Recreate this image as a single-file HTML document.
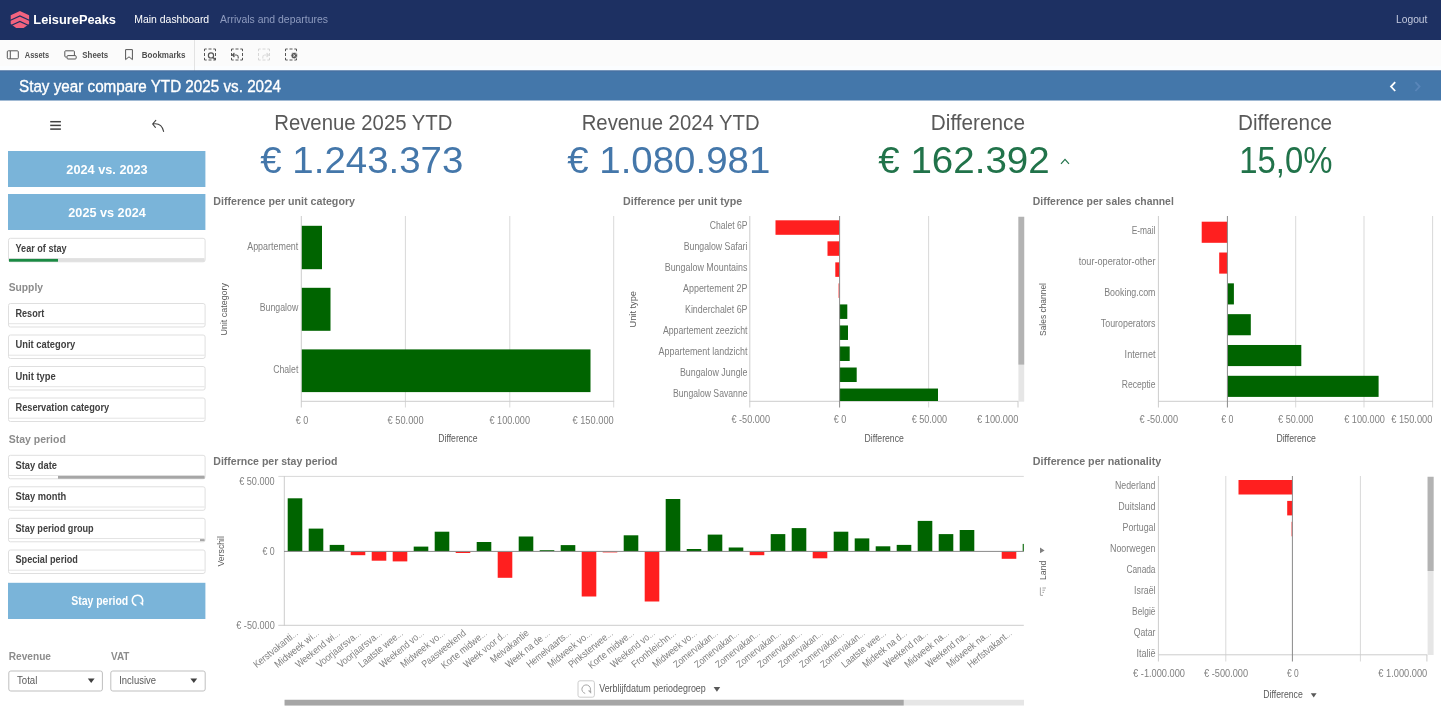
<!DOCTYPE html>
<html lang="en"><head><meta charset="utf-8"><title>Stay year compare YTD 2025 vs. 2024</title>
<style>
html,body{margin:0;padding:0;background:#ffffff;overflow:hidden}
svg{display:block;font-family:"Liberation Sans", sans-serif;}
text{white-space:pre}
</style></head><body>
<svg width="1441" height="708" viewBox="0 0 1441 708" shape-rendering="auto">
<rect x="0" y="0" width="1441" height="708" fill="#ffffff"/>
<rect x="0.00" y="0.00" width="1441.00" height="40.00" fill="#1d3062" />
<path d="M19.9 11.1 L29.1 15.3 V24 L23.6 28.1 H16.2 L10.7 24 V15.3 Z" fill="#f2637f"/><path d="M10 20.5 L19.9 15.9 L29.8 20.5 M10 26 L19.9 21.4 L29.8 26" fill="none" stroke="#1d3062" stroke-width="1.3"/>
<text x="33.3" y="24.2" font-size="13.14" fill="#ffffff" font-weight="bold" textLength="82.7" lengthAdjust="spacingAndGlyphs" >LeisurePeaks</text>
<text x="134.2" y="23.0" font-size="10.86" fill="#ffffff" font-weight="normal" textLength="75.0" lengthAdjust="spacingAndGlyphs" >Main dashboard</text>
<text x="220.0" y="23.0" font-size="10.86" fill="#8e9bbf" font-weight="normal" textLength="108.0" lengthAdjust="spacingAndGlyphs" >Arrivals and departures</text>
<text x="1396.0" y="23.4" font-size="10.86" fill="#c3c9de" font-weight="normal" textLength="31.4" lengthAdjust="spacingAndGlyphs" >Logout</text>
<rect x="0.00" y="40.00" width="1441.00" height="26.00" fill="#fbfbfb" />
<rect x="0.00" y="66.00" width="1441.00" height="4.50" fill="#fbfdff" />
<rect x="194.00" y="40.00" width="1" height="31.00" fill="#e3e3e3"/>
<rect x="7.3" y="50.8" width="11" height="8" rx="1" fill="none" stroke="#565656" stroke-width="1"/><line x1="10.3" y1="51" x2="10.3" y2="58.8" stroke="#565656" stroke-width="1"/>
<text x="24.8" y="57.8" font-size="9.00" fill="#505050" font-weight="bold" textLength="24.4" lengthAdjust="spacingAndGlyphs" >Assets</text>
<path d="M66.5 57 H65.6 Q64.8 57 64.8 56.2 V51.6 Q64.8 50.8 65.6 50.8 H73.6 Q74.4 50.8 74.4 51.6 V55.2" fill="none" stroke="#565656" stroke-width="1"/><rect x="67" y="55.6" width="9.2" height="3.4" rx="1" fill="none" stroke="#565656" stroke-width="1"/>
<text x="82.3" y="57.8" font-size="9.00" fill="#505050" font-weight="bold" textLength="25.9" lengthAdjust="spacingAndGlyphs" >Sheets</text>
<path d="M125.6 49.6 H132.4 V59.6 L129 56.8 L125.6 59.6 Z" fill="none" stroke="#565656" stroke-width="1" stroke-linejoin="round"/>
<text x="141.8" y="57.8" font-size="9.00" fill="#505050" font-weight="bold" textLength="43.7" lengthAdjust="spacingAndGlyphs" >Bookmarks</text>
<path d="M204.5 51.2 V49 H206.7 M213.3 49 H215.5 V51.2 M215.5 57.8 V60 H213.3 M206.7 60 H204.5 V57.8 M208.5 49 H211.5 M215.5 53 V56 M211.5 60 H208.5 M204.5 56 V53" fill="none" stroke="#565656" stroke-width="1" opacity="1"/>
<circle cx="211" cy="55.4" r="2.6" fill="#fbfbfb" stroke="#565656" stroke-width="1.2"/><line x1="213" y1="57.4" x2="215.6" y2="59.8" stroke="#565656" stroke-width="1.4"/>
<path d="M231.5 51.2 V49 H233.7 M240.3 49 H242.5 V51.2 M242.5 57.8 V60 H240.3 M233.7 60 H231.5 V57.8 M235.5 49 H238.5 M242.5 53 V56 M238.5 60 H235.5 M231.5 56 V53" fill="none" stroke="#565656" stroke-width="1" opacity="1"/>
<path d="M232.6 55 H236.4 Q238.2 55 238.2 57 V58.4 M234.4 53 L232.4 55 L234.4 57" fill="none" stroke="#565656" stroke-width="1.1"/>
<path d="M258.5 51.2 V49 H260.7 M267.3 49 H269.5 V51.2 M269.5 57.8 V60 H267.3 M260.7 60 H258.5 V57.8 M262.5 49 H265.5 M269.5 53 V56 M265.5 60 H262.5 M258.5 56 V53" fill="none" stroke="#c8c8c8" stroke-width="1" opacity="0.7"/>
<path d="M268.4 55 H264.6 Q262.8 55 262.8 57 V58.4 M266.6 53 L268.6 55 L266.6 57" fill="none" stroke="#dcdcdc" stroke-width="1.1"/>
<path d="M285.5 51.2 V49 H287.7 M294.3 49 H296.5 V51.2 M296.5 57.8 V60 H294.3 M287.7 60 H285.5 V57.8 M289.5 49 H292.5 M296.5 53 V56 M292.5 60 H289.5 M285.5 56 V53" fill="none" stroke="#565656" stroke-width="1" opacity="1"/>
<circle cx="294.2" cy="55.6" r="3.3" fill="#565656" stroke="#fafafa" stroke-width="0.8"/><path d="M293.1 54.5 L295.3 56.7 M295.3 54.5 L293.1 56.7" stroke="#fafafa" stroke-width="0.8"/>
<rect x="0.00" y="70.50" width="1441.00" height="30.00" fill="#4477aa" />
<rect x="0.00" y="70.50" width="1441.00" height="1" fill="#4a6f9e"/>
<text x="19.0" y="91.6" font-size="15.71" fill="#ffffff" font-weight="normal" textLength="262.0" lengthAdjust="spacingAndGlyphs" stroke="#ffffff" stroke-width="0.35">Stay year compare YTD 2025 vs. 2024</text>
<path d="M1395.2 82.2 L1391 86.6 L1395.2 91" fill="none" stroke="#ffffff" stroke-width="1.8"/>
<path d="M1415.4 82.2 L1419.6 86.6 L1415.4 91" fill="none" stroke="#5986b9" stroke-width="1.8"/>
<rect x="50.20" y="120.95" width="10.70" height="1.5" fill="#404040"/>
<rect x="50.20" y="124.65" width="10.70" height="1.5" fill="#404040"/>
<rect x="50.20" y="128.35" width="10.70" height="1.5" fill="#404040"/>
<path d="M152.8 124 Q161.6 122.4 163.6 131.4 M155.8 120.4 L152.6 124 L155.4 127.4" fill="none" stroke="#404040" stroke-width="1.1" stroke-linecap="round" stroke-linejoin="round"/>
<rect x="8.00" y="151.00" width="197.40" height="36.00" fill="#7ab4d9" />
<text x="66.3" y="173.9" font-size="12.29" fill="#ffffff" font-weight="bold" textLength="81.4" lengthAdjust="spacingAndGlyphs" >2024 vs. 2023</text>
<rect x="8.00" y="194.00" width="197.40" height="36.00" fill="#7ab4d9" />
<text x="68.3" y="216.9" font-size="12.29" fill="#ffffff" font-weight="bold" textLength="77.5" lengthAdjust="spacingAndGlyphs" >2025 vs 2024</text>
<rect x="8.5" y="238.3" width="196.6" height="23.5" rx="2" fill="#ffffff" stroke="#dfdfdf" stroke-width="1"/>
<rect x="9.00" y="258.00" width="195.60" height="1" fill="#e4e4e4"/>
<rect x="9.00" y="258.90" width="195.60" height="2.80" fill="#e0e0e0" />
<rect x="9.00" y="258.90" width="49.00" height="2.80" fill="#1a8a43" />
<text x="15.5" y="251.5" font-size="10.00" fill="#404040" font-weight="bold" textLength="51.2" lengthAdjust="spacingAndGlyphs" >Year of stay</text>
<text x="8.7" y="291.3" font-size="11.43" fill="#8c8c8c" font-weight="bold" textLength="34.3" lengthAdjust="spacingAndGlyphs" >Supply</text>
<rect x="8.5" y="303.5" width="196.6" height="23.5" rx="2" fill="#ffffff" stroke="#dfdfdf" stroke-width="1"/>
<rect x="9.00" y="323.20" width="195.60" height="1" fill="#e4e4e4"/>
<text x="15.5" y="316.8" font-size="10.00" fill="#404040" font-weight="bold" textLength="28.8" lengthAdjust="spacingAndGlyphs" >Resort</text>
<rect x="8.5" y="335.0" width="196.6" height="23.5" rx="2" fill="#ffffff" stroke="#dfdfdf" stroke-width="1"/>
<rect x="9.00" y="354.70" width="195.60" height="1" fill="#e4e4e4"/>
<text x="15.5" y="348.3" font-size="10.00" fill="#404040" font-weight="bold" textLength="59.8" lengthAdjust="spacingAndGlyphs" >Unit category</text>
<rect x="8.5" y="366.5" width="196.6" height="23.5" rx="2" fill="#ffffff" stroke="#dfdfdf" stroke-width="1"/>
<rect x="9.00" y="386.20" width="195.60" height="1" fill="#e4e4e4"/>
<text x="15.5" y="379.8" font-size="10.00" fill="#404040" font-weight="bold" textLength="40.3" lengthAdjust="spacingAndGlyphs" >Unit type</text>
<rect x="8.5" y="398.0" width="196.6" height="23.5" rx="2" fill="#ffffff" stroke="#dfdfdf" stroke-width="1"/>
<rect x="9.00" y="417.70" width="195.60" height="1" fill="#e4e4e4"/>
<text x="15.5" y="411.3" font-size="10.00" fill="#404040" font-weight="bold" textLength="93.7" lengthAdjust="spacingAndGlyphs" >Reservation category</text>
<text x="8.7" y="443.1" font-size="11.43" fill="#8c8c8c" font-weight="bold" textLength="57.1" lengthAdjust="spacingAndGlyphs" >Stay period</text>
<rect x="8.5" y="455.3" width="196.6" height="23.5" rx="2" fill="#ffffff" stroke="#dfdfdf" stroke-width="1"/>
<rect x="9.00" y="475.00" width="195.60" height="1" fill="#e4e4e4"/>
<rect x="58.00" y="475.90" width="146.60" height="2.80" fill="#a6a6a6" />
<text x="15.5" y="468.7" font-size="10.00" fill="#404040" font-weight="bold" textLength="41.5" lengthAdjust="spacingAndGlyphs" >Stay date</text>
<rect x="8.5" y="486.8" width="196.6" height="23.5" rx="2" fill="#ffffff" stroke="#dfdfdf" stroke-width="1"/>
<rect x="9.00" y="506.50" width="195.60" height="1" fill="#e4e4e4"/>
<text x="15.5" y="500.1" font-size="10.00" fill="#404040" font-weight="bold" textLength="50.8" lengthAdjust="spacingAndGlyphs" >Stay month</text>
<rect x="8.5" y="518.3" width="196.6" height="23.5" rx="2" fill="#ffffff" stroke="#dfdfdf" stroke-width="1"/>
<rect x="9.00" y="538.00" width="195.60" height="1" fill="#e4e4e4"/>
<rect x="200.00" y="539.10" width="4.60" height="2.00" fill="#a6a6a6" />
<text x="15.5" y="531.7" font-size="10.00" fill="#404040" font-weight="bold" textLength="78.2" lengthAdjust="spacingAndGlyphs" >Stay period group</text>
<rect x="8.5" y="550.0" width="196.6" height="23.5" rx="2" fill="#ffffff" stroke="#dfdfdf" stroke-width="1"/>
<rect x="9.00" y="569.70" width="195.60" height="1" fill="#e4e4e4"/>
<text x="15.5" y="563.3" font-size="10.00" fill="#404040" font-weight="bold" textLength="62.4" lengthAdjust="spacingAndGlyphs" >Special period</text>
<rect x="8.00" y="582.80" width="197.40" height="36.20" fill="#7ab4d9" />
<text x="71.2" y="605.4" font-size="12.57" fill="#ffffff" font-weight="bold" textLength="57.0" lengthAdjust="spacingAndGlyphs" >Stay period</text>
<path d="M136.4 605.5 A5.2 5.2 0 1 1 142.2 602.6" fill="none" stroke="#ffffff" stroke-width="1.6"/><path d="M139.4 602.6 H143.2 V606 Z" fill="#ffffff"/>
<text x="8.8" y="659.5" font-size="11.43" fill="#8c8c8c" font-weight="bold" textLength="42.2" lengthAdjust="spacingAndGlyphs" >Revenue</text>
<text x="111.0" y="659.5" font-size="11.43" fill="#8c8c8c" font-weight="bold" textLength="18.4" lengthAdjust="spacingAndGlyphs" >VAT</text>
<rect x="8.8" y="671" width="93.6" height="20" rx="2" fill="#ffffff" stroke="#bfbfbf" stroke-width="1"/>
<rect x="110.8" y="671" width="94.4" height="20" rx="2" fill="#ffffff" stroke="#bfbfbf" stroke-width="1"/>
<text x="17.0" y="684.2" font-size="10.00" fill="#595959" font-weight="normal" textLength="20.3" lengthAdjust="spacingAndGlyphs" >Total</text>
<text x="119.2" y="684.2" font-size="10.00" fill="#595959" font-weight="normal" textLength="36.8" lengthAdjust="spacingAndGlyphs" >Inclusive</text>
<path d="M87.8 678.4 H94.6 L91.2 683 Z" fill="#404040"/>
<path d="M190.4 678.4 H197.2 L193.8 683 Z" fill="#404040"/>
<text x="274.2" y="129.8" font-size="21.43" fill="#595959" font-weight="normal" textLength="178.3" lengthAdjust="spacingAndGlyphs" >Revenue 2025 YTD</text>
<text x="260.3" y="173.4" font-size="37.43" fill="#4477aa" font-weight="normal" textLength="203.0" lengthAdjust="spacingAndGlyphs" >€ 1.243.373</text>
<text x="581.7" y="129.8" font-size="21.43" fill="#595959" font-weight="normal" textLength="178.0" lengthAdjust="spacingAndGlyphs" >Revenue 2024 YTD</text>
<text x="567.2" y="173.4" font-size="37.43" fill="#4477aa" font-weight="normal" textLength="203.1" lengthAdjust="spacingAndGlyphs" >€ 1.080.981</text>
<text x="930.8" y="129.8" font-size="21.43" fill="#595959" font-weight="normal" textLength="94.2" lengthAdjust="spacingAndGlyphs" >Difference</text>
<text x="878.3" y="173.4" font-size="37.43" fill="#21734a" font-weight="normal" textLength="171.4" lengthAdjust="spacingAndGlyphs" >€ 162.392</text>
<text x="1238.0" y="129.8" font-size="21.43" fill="#595959" font-weight="normal" textLength="94.0" lengthAdjust="spacingAndGlyphs" >Difference</text>
<text x="1239.2" y="173.4" font-size="37.43" fill="#21734a" font-weight="normal" textLength="93.3" lengthAdjust="spacingAndGlyphs" >15,0%</text>
<path d="M1061 163.8 L1065 159.4 L1069 163.8" fill="none" stroke="#21734a" stroke-width="1.2"/>
<text x="213.3" y="205.0" font-size="11.43" fill="#737373" font-weight="bold" textLength="141.7" lengthAdjust="spacingAndGlyphs" >Difference per unit category</text>
<rect x="404.90" y="216.00" width="1" height="191.50" fill="#d9d9d9"/>
<rect x="509.30" y="216.00" width="1" height="191.50" fill="#d9d9d9"/>
<rect x="613.20" y="216.00" width="1" height="191.50" fill="#d9d9d9"/>
<rect x="301.00" y="400.80" width="313.20" height="1" fill="#cccccc"/>
<rect x="300.80" y="216.00" width="1" height="191.50" fill="#cccccc"/>
<rect x="301.80" y="225.80" width="20.20" height="43.40" fill="#006400" />
<rect x="301.80" y="287.80" width="28.70" height="43.00" fill="#006400" />
<rect x="301.80" y="349.40" width="288.70" height="42.70" fill="#006400" />
<text x="247.2" y="249.6" font-size="10.00" fill="#808080" font-weight="normal" textLength="51.1" lengthAdjust="spacingAndGlyphs" >Appartement</text>
<text x="259.7" y="311.1" font-size="10.00" fill="#808080" font-weight="normal" textLength="38.6" lengthAdjust="spacingAndGlyphs" >Bungalow</text>
<text x="273.2" y="372.8" font-size="10.00" fill="#808080" font-weight="normal" textLength="25.1" lengthAdjust="spacingAndGlyphs" >Chalet</text>
<text transform="translate(226.9,335.5) rotate(-90)" font-size="9.43" fill="#595959" font-weight="normal" textLength="52.5" lengthAdjust="spacingAndGlyphs">Unit category</text>
<text x="295.7" y="423.6" font-size="10.00" fill="#808080" font-weight="normal" textLength="12.5" lengthAdjust="spacingAndGlyphs" >€ 0</text>
<text x="387.6" y="423.6" font-size="10.00" fill="#808080" font-weight="normal" textLength="36.0" lengthAdjust="spacingAndGlyphs" >€ 50.000</text>
<text x="489.5" y="423.6" font-size="10.00" fill="#808080" font-weight="normal" textLength="40.5" lengthAdjust="spacingAndGlyphs" >€ 100.000</text>
<text x="572.5" y="423.6" font-size="10.00" fill="#808080" font-weight="normal" textLength="41.2" lengthAdjust="spacingAndGlyphs" >€ 150.000</text>
<text x="438.3" y="442.0" font-size="10.00" fill="#595959" font-weight="normal" textLength="39.2" lengthAdjust="spacingAndGlyphs" >Difference</text>
<text x="623.0" y="205.0" font-size="11.43" fill="#737373" font-weight="bold" textLength="119.2" lengthAdjust="spacingAndGlyphs" >Difference per unit type</text>
<rect x="928.10" y="216.00" width="1" height="191.50" fill="#d9d9d9"/>
<rect x="1017.50" y="401.00" width="1" height="6.50" fill="#cccccc"/>
<rect x="749.30" y="216.00" width="1" height="191.50" fill="#cccccc"/>
<rect x="749.30" y="400.80" width="269.20" height="1" fill="#cccccc"/>
<rect x="775.50" y="220.30" width="64.10" height="14.50" fill="#ff1f1f" />
<text x="709.7" y="229.3" font-size="10.00" fill="#808080" font-weight="normal" textLength="37.8" lengthAdjust="spacingAndGlyphs" >Chalet 6P</text>
<rect x="827.50" y="241.33" width="12.10" height="14.50" fill="#ff1f1f" />
<text x="683.7" y="250.2" font-size="10.00" fill="#808080" font-weight="normal" textLength="63.8" lengthAdjust="spacingAndGlyphs" >Bungalow Safari</text>
<rect x="835.30" y="262.36" width="4.30" height="14.50" fill="#ff1f1f" />
<text x="664.7" y="271.2" font-size="10.00" fill="#808080" font-weight="normal" textLength="82.8" lengthAdjust="spacingAndGlyphs" >Bungalow Mountains</text>
<rect x="838.60" y="283.39" width="1.00" height="14.50" fill="#ff1f1f" />
<text x="683.0" y="292.1" font-size="10.00" fill="#808080" font-weight="normal" textLength="64.5" lengthAdjust="spacingAndGlyphs" >Appertement 2P</text>
<rect x="839.60" y="304.42" width="7.70" height="14.50" fill="#006400" />
<text x="685.0" y="313.1" font-size="10.00" fill="#808080" font-weight="normal" textLength="62.5" lengthAdjust="spacingAndGlyphs" >Kinderchalet 6P</text>
<rect x="839.60" y="325.45" width="8.40" height="14.50" fill="#006400" />
<text x="662.9" y="334.1" font-size="10.00" fill="#808080" font-weight="normal" textLength="84.6" lengthAdjust="spacingAndGlyphs" >Appartement zeezicht</text>
<rect x="839.60" y="346.48" width="10.10" height="14.50" fill="#006400" />
<text x="658.6" y="355.0" font-size="10.00" fill="#808080" font-weight="normal" textLength="88.9" lengthAdjust="spacingAndGlyphs" >Appartement landzicht</text>
<rect x="839.60" y="367.51" width="17.10" height="14.50" fill="#006400" />
<text x="679.9" y="376.0" font-size="10.00" fill="#808080" font-weight="normal" textLength="67.6" lengthAdjust="spacingAndGlyphs" >Bungalow Jungle</text>
<rect x="839.60" y="388.54" width="98.40" height="12.46" fill="#006400" />
<text x="673.0" y="396.9" font-size="10.00" fill="#808080" font-weight="normal" textLength="74.5" lengthAdjust="spacingAndGlyphs" >Bungalow Savanne</text>
<rect x="839.10" y="216.00" width="1" height="191.50" fill="#8a8a8a"/>
<rect x="1018.40" y="216.80" width="5.80" height="184.90" fill="#e6e6e6" />
<rect x="1018.40" y="216.80" width="5.80" height="147.80" fill="#b3b3b3" />
<text transform="translate(636.3,327.5) rotate(-90)" font-size="9.43" fill="#595959" font-weight="normal" textLength="36.5" lengthAdjust="spacingAndGlyphs">Unit type</text>
<text x="731.4" y="423.4" font-size="10.00" fill="#808080" font-weight="normal" textLength="38.6" lengthAdjust="spacingAndGlyphs" >€ -50.000</text>
<text x="833.7" y="423.4" font-size="10.00" fill="#808080" font-weight="normal" textLength="12.5" lengthAdjust="spacingAndGlyphs" >€ 0</text>
<text x="911.7" y="423.4" font-size="10.00" fill="#808080" font-weight="normal" textLength="35.3" lengthAdjust="spacingAndGlyphs" >€ 50.000</text>
<text x="977.0" y="423.4" font-size="10.00" fill="#808080" font-weight="normal" textLength="41.3" lengthAdjust="spacingAndGlyphs" >€ 100.000</text>
<text x="864.5" y="441.8" font-size="10.00" fill="#595959" font-weight="normal" textLength="39.3" lengthAdjust="spacingAndGlyphs" >Difference</text>
<text x="1032.8" y="205.0" font-size="11.43" fill="#737373" font-weight="bold" textLength="141.0" lengthAdjust="spacingAndGlyphs" >Difference per sales channel</text>
<rect x="1295.20" y="216.00" width="1" height="191.50" fill="#d9d9d9"/>
<rect x="1363.50" y="216.00" width="1" height="191.50" fill="#d9d9d9"/>
<rect x="1432.10" y="216.00" width="1" height="191.50" fill="#d9d9d9"/>
<rect x="1157.90" y="216.00" width="1" height="191.50" fill="#cccccc"/>
<rect x="1158.00" y="400.80" width="275.00" height="1" fill="#cccccc"/>
<rect x="1201.70" y="221.70" width="25.70" height="21.10" fill="#ff1f1f" />
<text x="1131.7" y="234.3" font-size="10.00" fill="#808080" font-weight="normal" textLength="23.8" lengthAdjust="spacingAndGlyphs" >E-mail</text>
<rect x="1219.20" y="252.52" width="8.20" height="21.10" fill="#ff1f1f" />
<text x="1078.7" y="265.1" font-size="10.00" fill="#808080" font-weight="normal" textLength="76.8" lengthAdjust="spacingAndGlyphs" >tour-operator-other</text>
<rect x="1227.40" y="283.34" width="6.50" height="21.10" fill="#006400" />
<text x="1104.2" y="295.9" font-size="10.00" fill="#808080" font-weight="normal" textLength="51.3" lengthAdjust="spacingAndGlyphs" >Booking.com</text>
<rect x="1227.40" y="314.16" width="23.40" height="21.10" fill="#006400" />
<text x="1100.8" y="326.7" font-size="10.00" fill="#808080" font-weight="normal" textLength="54.7" lengthAdjust="spacingAndGlyphs" >Touroperators</text>
<rect x="1227.40" y="344.98" width="73.90" height="21.10" fill="#006400" />
<text x="1124.6" y="357.5" font-size="10.00" fill="#808080" font-weight="normal" textLength="30.9" lengthAdjust="spacingAndGlyphs" >Internet</text>
<rect x="1227.40" y="375.80" width="151.20" height="21.10" fill="#006400" />
<text x="1121.8" y="388.3" font-size="10.00" fill="#808080" font-weight="normal" textLength="33.7" lengthAdjust="spacingAndGlyphs" >Receptie</text>
<rect x="1226.90" y="216.00" width="1" height="191.50" fill="#8a8a8a"/>
<text transform="translate(1045.9,336.0) rotate(-90)" font-size="9.43" fill="#595959" font-weight="normal" textLength="53.0" lengthAdjust="spacingAndGlyphs">Sales channel</text>
<text x="1139.4" y="423.3" font-size="10.00" fill="#808080" font-weight="normal" textLength="38.6" lengthAdjust="spacingAndGlyphs" >€ -50.000</text>
<text x="1221.3" y="423.3" font-size="10.00" fill="#808080" font-weight="normal" textLength="12.2" lengthAdjust="spacingAndGlyphs" >€ 0</text>
<text x="1278.1" y="423.3" font-size="10.00" fill="#808080" font-weight="normal" textLength="35.3" lengthAdjust="spacingAndGlyphs" >€ 50.000</text>
<text x="1344.2" y="423.3" font-size="10.00" fill="#808080" font-weight="normal" textLength="40.7" lengthAdjust="spacingAndGlyphs" >€ 100.000</text>
<text x="1391.2" y="423.3" font-size="10.00" fill="#808080" font-weight="normal" textLength="41.2" lengthAdjust="spacingAndGlyphs" >€ 150.000</text>
<text x="1276.4" y="441.9" font-size="10.00" fill="#595959" font-weight="normal" textLength="39.5" lengthAdjust="spacingAndGlyphs" >Difference</text>
<text x="213.3" y="465.0" font-size="11.43" fill="#737373" font-weight="bold" textLength="124.2" lengthAdjust="spacingAndGlyphs" >Differnce per stay period</text>
<rect x="278.30" y="475.90" width="745.50" height="1" fill="#d9d9d9"/>
<rect x="278.30" y="624.80" width="745.50" height="1" fill="#cccccc"/>
<rect x="283.80" y="476.00" width="1" height="149.80" fill="#cccccc"/>
<rect x="287.70" y="498.30" width="14.60" height="53.10" fill="#006400" />
<rect x="308.70" y="528.60" width="14.60" height="22.80" fill="#006400" />
<rect x="329.70" y="544.90" width="14.60" height="6.50" fill="#006400" />
<rect x="350.70" y="551.40" width="14.60" height="3.80" fill="#ff1f1f" />
<rect x="371.70" y="551.40" width="14.60" height="9.30" fill="#ff1f1f" />
<rect x="392.70" y="551.40" width="14.60" height="10.00" fill="#ff1f1f" />
<rect x="413.70" y="546.60" width="14.60" height="4.80" fill="#006400" />
<rect x="434.70" y="531.70" width="14.60" height="19.70" fill="#006400" />
<rect x="455.70" y="551.40" width="14.60" height="1.60" fill="#ff1f1f" />
<rect x="476.70" y="542.00" width="14.60" height="9.40" fill="#006400" />
<rect x="497.70" y="551.40" width="14.60" height="26.40" fill="#ff1f1f" />
<rect x="518.70" y="536.50" width="14.60" height="14.90" fill="#006400" />
<rect x="539.70" y="550.20" width="14.60" height="1.20" fill="#006400" />
<rect x="560.70" y="545.10" width="14.60" height="6.30" fill="#006400" />
<rect x="581.70" y="551.40" width="14.60" height="45.10" fill="#ff1f1f" />
<rect x="602.70" y="551.40" width="14.60" height="1.00" fill="#ff1f1f" />
<rect x="623.70" y="535.30" width="14.60" height="16.10" fill="#006400" />
<rect x="644.70" y="551.40" width="14.60" height="50.10" fill="#ff1f1f" />
<rect x="665.70" y="499.00" width="14.60" height="52.40" fill="#006400" />
<rect x="686.70" y="549.00" width="14.60" height="2.40" fill="#006400" />
<rect x="707.70" y="534.60" width="14.60" height="16.80" fill="#006400" />
<rect x="728.70" y="547.50" width="14.60" height="3.90" fill="#006400" />
<rect x="749.70" y="551.40" width="14.60" height="3.80" fill="#ff1f1f" />
<rect x="770.70" y="534.10" width="14.60" height="17.30" fill="#006400" />
<rect x="791.70" y="528.10" width="14.60" height="23.30" fill="#006400" />
<rect x="812.70" y="551.40" width="14.60" height="6.90" fill="#ff1f1f" />
<rect x="833.70" y="531.70" width="14.60" height="19.70" fill="#006400" />
<rect x="854.70" y="538.40" width="14.60" height="13.00" fill="#006400" />
<rect x="875.70" y="546.30" width="14.60" height="5.10" fill="#006400" />
<rect x="896.70" y="544.90" width="14.60" height="6.50" fill="#006400" />
<rect x="917.70" y="520.90" width="14.60" height="30.50" fill="#006400" />
<rect x="938.70" y="534.10" width="14.60" height="17.30" fill="#006400" />
<rect x="959.70" y="530.00" width="14.60" height="21.40" fill="#006400" />
<rect x="1001.70" y="551.40" width="14.60" height="7.40" fill="#ff1f1f" />
<rect x="1022.70" y="543.90" width="1.10" height="7.50" fill="#006400" />
<rect x="284.00" y="550.90" width="739.80" height="1" fill="#8a8a8a"/>
<text transform="translate(298.6,634.3) rotate(-39)" x="-54.0" y="0" font-size="10" fill="#808080" textLength="54.0" lengthAdjust="spacingAndGlyphs">Kerstvakanti<tspan font-size="8">…</tspan></text>
<text transform="translate(319.6,634.3) rotate(-39)" x="-54.0" y="0" font-size="10" fill="#808080" textLength="54.0" lengthAdjust="spacingAndGlyphs">Midweek wi<tspan font-size="8">…</tspan></text>
<text transform="translate(340.6,634.3) rotate(-39)" x="-54.0" y="0" font-size="10" fill="#808080" textLength="54.0" lengthAdjust="spacingAndGlyphs">Weekend wi<tspan font-size="8">…</tspan></text>
<text transform="translate(361.6,634.3) rotate(-39)" x="-54.0" y="0" font-size="10" fill="#808080" textLength="54.0" lengthAdjust="spacingAndGlyphs">Voorjaarsva<tspan font-size="8">…</tspan></text>
<text transform="translate(382.6,634.3) rotate(-39)" x="-54.0" y="0" font-size="10" fill="#808080" textLength="54.0" lengthAdjust="spacingAndGlyphs">Voorjaarsva<tspan font-size="8">…</tspan></text>
<text transform="translate(403.6,634.3) rotate(-39)" x="-54.0" y="0" font-size="10" fill="#808080" textLength="54.0" lengthAdjust="spacingAndGlyphs">Laatste wee<tspan font-size="8">…</tspan></text>
<text transform="translate(424.6,634.3) rotate(-39)" x="-54.0" y="0" font-size="10" fill="#808080" textLength="54.0" lengthAdjust="spacingAndGlyphs">Weekend vo<tspan font-size="8">…</tspan></text>
<text transform="translate(445.6,634.3) rotate(-39)" x="-54.0" y="0" font-size="10" fill="#808080" textLength="54.0" lengthAdjust="spacingAndGlyphs">Midweek vo<tspan font-size="8">…</tspan></text>
<text transform="translate(466.6,634.3) rotate(-39)" x="-53.7" y="0" font-size="10" fill="#808080" textLength="53.7" lengthAdjust="spacingAndGlyphs">Paasweekend</text>
<text transform="translate(487.6,634.3) rotate(-39)" x="-55.5" y="0" font-size="10" fill="#808080" textLength="55.5" lengthAdjust="spacingAndGlyphs">Korte midwe<tspan font-size="8">…</tspan></text>
<text transform="translate(508.6,634.3) rotate(-39)" x="-54.0" y="0" font-size="10" fill="#808080" textLength="54.0" lengthAdjust="spacingAndGlyphs">Week voor d<tspan font-size="8">…</tspan></text>
<text transform="translate(529.6,634.3) rotate(-39)" x="-46.6" y="0" font-size="10" fill="#808080" textLength="46.6" lengthAdjust="spacingAndGlyphs">Meivakantie</text>
<text transform="translate(550.6,634.3) rotate(-39)" x="-54.0" y="0" font-size="10" fill="#808080" textLength="54.0" lengthAdjust="spacingAndGlyphs">Week na de <tspan font-size="8">…</tspan></text>
<text transform="translate(571.6,634.3) rotate(-39)" x="-54.0" y="0" font-size="10" fill="#808080" textLength="54.0" lengthAdjust="spacingAndGlyphs">Hemelvaarts<tspan font-size="8">…</tspan></text>
<text transform="translate(592.6,634.3) rotate(-39)" x="-54.0" y="0" font-size="10" fill="#808080" textLength="54.0" lengthAdjust="spacingAndGlyphs">Midweek vo<tspan font-size="8">…</tspan></text>
<text transform="translate(613.6,634.3) rotate(-39)" x="-54.0" y="0" font-size="10" fill="#808080" textLength="54.0" lengthAdjust="spacingAndGlyphs">Pinksterwee<tspan font-size="8">…</tspan></text>
<text transform="translate(634.6,634.3) rotate(-39)" x="-55.5" y="0" font-size="10" fill="#808080" textLength="55.5" lengthAdjust="spacingAndGlyphs">Korte midwe<tspan font-size="8">…</tspan></text>
<text transform="translate(655.6,634.3) rotate(-39)" x="-54.0" y="0" font-size="10" fill="#808080" textLength="54.0" lengthAdjust="spacingAndGlyphs">Weekend vo<tspan font-size="8">…</tspan></text>
<text transform="translate(676.6,634.3) rotate(-39)" x="-54.0" y="0" font-size="10" fill="#808080" textLength="54.0" lengthAdjust="spacingAndGlyphs">Fronhleichn<tspan font-size="8">…</tspan></text>
<text transform="translate(697.6,634.3) rotate(-39)" x="-54.0" y="0" font-size="10" fill="#808080" textLength="54.0" lengthAdjust="spacingAndGlyphs">Midweek vo<tspan font-size="8">…</tspan></text>
<text transform="translate(718.6,634.3) rotate(-39)" x="-54.0" y="0" font-size="10" fill="#808080" textLength="54.0" lengthAdjust="spacingAndGlyphs">Zomervakan<tspan font-size="8">…</tspan></text>
<text transform="translate(739.6,634.3) rotate(-39)" x="-54.0" y="0" font-size="10" fill="#808080" textLength="54.0" lengthAdjust="spacingAndGlyphs">Zomervakan<tspan font-size="8">…</tspan></text>
<text transform="translate(760.6,634.3) rotate(-39)" x="-54.0" y="0" font-size="10" fill="#808080" textLength="54.0" lengthAdjust="spacingAndGlyphs">Zomervakan<tspan font-size="8">…</tspan></text>
<text transform="translate(781.6,634.3) rotate(-39)" x="-54.0" y="0" font-size="10" fill="#808080" textLength="54.0" lengthAdjust="spacingAndGlyphs">Zomervakan<tspan font-size="8">…</tspan></text>
<text transform="translate(802.6,634.3) rotate(-39)" x="-54.0" y="0" font-size="10" fill="#808080" textLength="54.0" lengthAdjust="spacingAndGlyphs">Zomervakan<tspan font-size="8">…</tspan></text>
<text transform="translate(823.6,634.3) rotate(-39)" x="-54.0" y="0" font-size="10" fill="#808080" textLength="54.0" lengthAdjust="spacingAndGlyphs">Zomervakan<tspan font-size="8">…</tspan></text>
<text transform="translate(844.6,634.3) rotate(-39)" x="-54.0" y="0" font-size="10" fill="#808080" textLength="54.0" lengthAdjust="spacingAndGlyphs">Zomervakan<tspan font-size="8">…</tspan></text>
<text transform="translate(865.6,634.3) rotate(-39)" x="-54.0" y="0" font-size="10" fill="#808080" textLength="54.0" lengthAdjust="spacingAndGlyphs">Zomervakan<tspan font-size="8">…</tspan></text>
<text transform="translate(886.6,634.3) rotate(-39)" x="-54.0" y="0" font-size="10" fill="#808080" textLength="54.0" lengthAdjust="spacingAndGlyphs">Laatste wee<tspan font-size="8">…</tspan></text>
<text transform="translate(907.6,634.3) rotate(-39)" x="-54.0" y="0" font-size="10" fill="#808080" textLength="54.0" lengthAdjust="spacingAndGlyphs">Mideek na d<tspan font-size="8">…</tspan></text>
<text transform="translate(928.6,634.3) rotate(-39)" x="-54.0" y="0" font-size="10" fill="#808080" textLength="54.0" lengthAdjust="spacingAndGlyphs">Weekend na<tspan font-size="8">…</tspan></text>
<text transform="translate(949.6,634.3) rotate(-39)" x="-54.0" y="0" font-size="10" fill="#808080" textLength="54.0" lengthAdjust="spacingAndGlyphs">Midweek na<tspan font-size="8">…</tspan></text>
<text transform="translate(970.6,634.3) rotate(-39)" x="-54.0" y="0" font-size="10" fill="#808080" textLength="54.0" lengthAdjust="spacingAndGlyphs">Weekend na<tspan font-size="8">…</tspan></text>
<text transform="translate(991.6,634.3) rotate(-39)" x="-54.0" y="0" font-size="10" fill="#808080" textLength="54.0" lengthAdjust="spacingAndGlyphs">Midweek na<tspan font-size="8">…</tspan></text>
<text transform="translate(1012.6,634.3) rotate(-39)" x="-54.0" y="0" font-size="10" fill="#808080" textLength="54.0" lengthAdjust="spacingAndGlyphs">Herfstvakant<tspan font-size="8">…</tspan></text>
<text x="239.2" y="484.6" font-size="10.00" fill="#808080" font-weight="normal" textLength="35.5" lengthAdjust="spacingAndGlyphs" >€ 50.000</text>
<text x="262.5" y="554.8" font-size="10.00" fill="#808080" font-weight="normal" textLength="12.2" lengthAdjust="spacingAndGlyphs" >€ 0</text>
<text x="236.3" y="629.2" font-size="10.00" fill="#808080" font-weight="normal" textLength="38.4" lengthAdjust="spacingAndGlyphs" >€ -50.000</text>
<text transform="translate(223.8,566.5) rotate(-90)" font-size="9.43" fill="#595959" font-weight="normal" textLength="30.5" lengthAdjust="spacingAndGlyphs">Verschil</text>
<rect x="578" y="680.8" width="16.4" height="16.4" rx="2" fill="#ffffff" stroke="#cccccc" stroke-width="1"/>
<path d="M585.2 693.4 A4.3 4.3 0 1 1 590.2 690.8" fill="none" stroke="#a6a6a6" stroke-width="1"/><path d="M587.8 690.6 H591.2 V693.8 Z" fill="#a6a6a6"/>
<text x="599.2" y="692.3" font-size="10.00" fill="#595959" font-weight="normal" textLength="106.6" lengthAdjust="spacingAndGlyphs" >Verblijfdatum periodegroep</text>
<path d="M713.6 687 H720.2 L716.9 691.8 Z" fill="#595959"/>
<rect x="284.60" y="699.80" width="739.40" height="5.70" fill="#e6e6e6" />
<rect x="284.60" y="699.80" width="619.10" height="5.70" fill="#a6a6a6" />
<text x="1032.8" y="465.0" font-size="11.43" fill="#737373" font-weight="bold" textLength="128.5" lengthAdjust="spacingAndGlyphs" >Difference per nationality</text>
<rect x="1225.30" y="476.00" width="1" height="185.50" fill="#d9d9d9"/>
<rect x="1359.90" y="476.00" width="1" height="185.50" fill="#d9d9d9"/>
<rect x="1426.40" y="655.00" width="1" height="6.50" fill="#cccccc"/>
<rect x="1157.90" y="476.00" width="1" height="185.50" fill="#cccccc"/>
<rect x="1158.00" y="654.30" width="269.40" height="1" fill="#cccccc"/>
<rect x="1238.50" y="480.00" width="53.90" height="14.50" fill="#ff1f1f" />
<text x="1115.0" y="488.7" font-size="10.00" fill="#808080" font-weight="normal" textLength="40.5" lengthAdjust="spacingAndGlyphs" >Nederland</text>
<rect x="1287.20" y="500.90" width="5.20" height="14.50" fill="#ff1f1f" />
<text x="1118.3" y="509.7" font-size="10.00" fill="#808080" font-weight="normal" textLength="37.2" lengthAdjust="spacingAndGlyphs" >Duitsland</text>
<rect x="1291.60" y="521.80" width="0.80" height="14.50" fill="#ff1f1f" />
<text x="1122.5" y="530.7" font-size="10.00" fill="#808080" font-weight="normal" textLength="33.0" lengthAdjust="spacingAndGlyphs" >Portugal</text>
<text x="1110.0" y="551.7" font-size="10.00" fill="#808080" font-weight="normal" textLength="45.5" lengthAdjust="spacingAndGlyphs" >Noorwegen</text>
<text x="1126.4" y="572.7" font-size="10.00" fill="#808080" font-weight="normal" textLength="29.1" lengthAdjust="spacingAndGlyphs" >Canada</text>
<text x="1134.1" y="593.7" font-size="10.00" fill="#808080" font-weight="normal" textLength="21.4" lengthAdjust="spacingAndGlyphs" >Israël</text>
<text x="1132.0" y="614.7" font-size="10.00" fill="#808080" font-weight="normal" textLength="23.5" lengthAdjust="spacingAndGlyphs" >België</text>
<text x="1133.7" y="635.7" font-size="10.00" fill="#808080" font-weight="normal" textLength="21.8" lengthAdjust="spacingAndGlyphs" >Qatar</text>
<text x="1136.4" y="656.7" font-size="10.00" fill="#808080" font-weight="normal" textLength="19.1" lengthAdjust="spacingAndGlyphs" >Italië</text>
<rect x="1291.90" y="476.00" width="1" height="185.50" fill="#8a8a8a"/>
<rect x="1427.60" y="476.80" width="6.00" height="178.20" fill="#e6e6e6" />
<rect x="1427.60" y="476.80" width="6.00" height="94.20" fill="#b3b3b3" />
<path d="M1040 547.5 V553.3 L1044.6 550.4 Z" fill="#808080"/>
<text transform="translate(1046.1,580.0) rotate(-90)" font-size="9.43" fill="#595959" font-weight="normal" textLength="19.4" lengthAdjust="spacingAndGlyphs">Land</text>
<path d="M1040.4 587.4 V595.4 H1043 M1042.4 588 H1046 M1042.4 590.2 H1045 M1042.4 592.4 H1044" fill="none" stroke="#a0a0a0" stroke-width="0.9"/>
<text x="1133.1" y="677.1" font-size="10.00" fill="#808080" font-weight="normal" textLength="51.9" lengthAdjust="spacingAndGlyphs" >€ -1.000.000</text>
<text x="1204.1" y="677.1" font-size="10.00" fill="#808080" font-weight="normal" textLength="44.0" lengthAdjust="spacingAndGlyphs" >€ -500.000</text>
<text x="1287.1" y="677.1" font-size="10.00" fill="#808080" font-weight="normal" textLength="11.7" lengthAdjust="spacingAndGlyphs" >€ 0</text>
<text x="1378.3" y="677.1" font-size="10.00" fill="#808080" font-weight="normal" textLength="48.9" lengthAdjust="spacingAndGlyphs" >€ 1.000.000</text>
<text x="1263.3" y="698.4" font-size="10.00" fill="#595959" font-weight="normal" textLength="39.5" lengthAdjust="spacingAndGlyphs" >Difference</text>
<path d="M1310.8 693.2 H1316.6 L1313.7 697.6 Z" fill="#595959"/>
</svg>
</body></html>
